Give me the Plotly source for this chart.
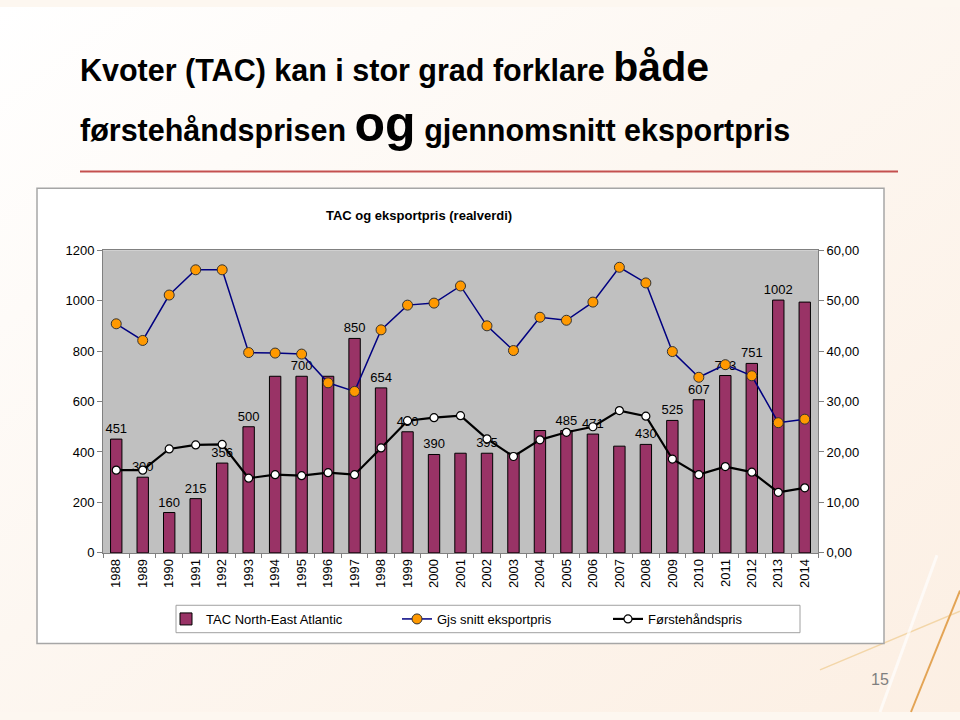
import base64
import plotly.graph_objects as go

# ---------------- data ----------------
years = [str(y) for y in range(1988, 2015)]
tac = [451, 300, 160, 215, 356, 500, 700, 700, 700, 850, 654, 480, 390, 395,
       395, 395, 485, 485, 471, 423, 430, 525, 607, 703, 751, 1002, 994]
export_price = [45.4, 42.1, 51.1, 56.1, 56.1, 39.7, 39.6, 39.4, 33.7, 32.0,
                44.2, 49.1, 49.5, 52.9, 45.0, 40.1, 46.7, 46.1, 49.7, 56.6,
                53.5, 39.9, 34.8, 37.3, 35.1, 25.8, 26.5]
first_hand = [16.4, 16.4, 20.6, 21.4, 21.5, 14.8, 15.5, 15.3, 15.9, 15.5,
              20.8, 26.2, 26.8, 27.2, 22.6, 19.1, 22.4, 23.9, 25.0, 28.2,
              27.1, 18.6, 15.5, 17.1, 16.0, 12.0, 12.9]
labelled_years = ["1988", "1989", "1990", "1991", "1992", "1993", "1995",
                  "1997", "1998", "1999", "2000", "2002", "2005", "2006",
                  "2008", "2009", "2010", "2011", "2012", "2013"]
left_ticks = [0, 200, 400, 600, 800, 1000, 1200]
right_ticks = [0, 10, 20, 30, 40, 50, 60]

bar_text = [str(v) if y in labelled_years else "" for y, v in zip(years, tac)]

W, H = 960, 720
def px(x):
    return x / W
def py(y):
    return 1 - y / H

FONT = "Liberation Sans, Arial, sans-serif"

PLOT_L, PLOT_R, PLOT_T, PLOT_B = 103, 818, 248.3, 557.5

# soft slide background gradient (decorative)
svg = ("<svg xmlns='http://www.w3.org/2000/svg' width='960' height='720'>"
       "<defs><linearGradient id='g' x1='0' y1='0' x2='1' y2='1'>"
       "<stop offset='0' stop-color='#FFFFFF'/>"
       "<stop offset='0.45' stop-color='#FDF7F1'/>"
       "<stop offset='1' stop-color='#FCEFE3'/>"
       "</linearGradient></defs>"
       "<rect width='960' height='720' fill='url(#g)'/></svg>")
bg_uri = "data:image/svg+xml;base64," + base64.b64encode(svg.encode()).decode()

fig = go.Figure()
fig.add_trace(go.Bar(
    x=years, y=tac, name="TAC North-East Atlantic",
    marker=dict(color="#993366", line=dict(color="#000000", width=1)),
    text=bar_text, textposition="outside", constraintext="none",
    textfont=dict(family=FONT, size=13, color="#000000"),
    cliponaxis=False, legend="legend",
))
fig.add_trace(go.Scatter(
    x=years, y=export_price, name="Gjs snitt eksportpris", yaxis="y2",
    mode="lines+markers",
    line=dict(color="#000080", width=1.5),
    marker=dict(symbol="circle", size=10, color="#FF9900",
                line=dict(color="#333333", width=1)),
    legend="legend2",
))
fig.add_trace(go.Scatter(
    x=years, y=first_hand, name="Førstehåndspris", yaxis="y2",
    mode="lines+markers",
    line=dict(color="#000000", width=2.2),
    marker=dict(symbol="circle", size=8, color="#FFFFFF",
                line=dict(color="#000000", width=1.2)),
    legend="legend3",
))

shapes = [
    # decorative lines on the slide background
    dict(type="line", xref="paper", yref="paper", x0=px(820), y0=py(677),
         x1=px(960), y1=py(617), line=dict(color="#F3D6A8", width=1.5), layer="below"),
    dict(type="line", xref="paper", yref="paper", x0=px(937), y0=py(560),
         x1=px(880), y1=py(720), line=dict(color="#FFFFFF", width=3), layer="below",
         opacity=0.7),
    dict(type="line", xref="paper", yref="paper", x0=px(960), y0=py(596),
         x1=px(911), y1=py(720), line=dict(color="#E3A455", width=2), layer="below"),
    # red rule under the title
    dict(type="line", xref="paper", yref="paper", x0=px(80), y0=py(168),
         x1=px(898), y1=py(168), line=dict(color="#C4504F", width=2), layer="below"),
    # white chart frame
    dict(type="rect", xref="paper", yref="paper", x0=px(37), y0=py(185),
         x1=px(884), y1=py(650), fillcolor="#FFFFFF",
         line=dict(color="#A6A6A6", width=1.5), layer="below"),
    # grey plot area
    dict(type="rect", xref="paper", yref="paper", x0=px(PLOT_L), y0=py(PLOT_B),
         x1=px(PLOT_R), y1=py(PLOT_T), fillcolor="#C0C0C0",
         line=dict(width=0), layer="below"),
    # legend box
    dict(type="rect", xref="paper", yref="paper", x0=px(176), y0=py(611),
         x1=px(800), y1=py(639), fillcolor="#FFFFFF",
         line=dict(color="#A0A0A0", width=1), layer="below"),
]

annotations = [
    dict(xref="paper", yref="paper", x=px(78), y=py(61), xanchor="left",
         yanchor="middle", showarrow=False,
         text="<b>Kvoter (TAC) kan i stor grad forklare "
              "<span style='font-size:41px'>både</span></b>",
         font=dict(family=FONT, size=30.5, color="#000000")),
    dict(xref="paper", yref="paper", x=px(78), y=py(119), xanchor="left",
         yanchor="middle", showarrow=False,
         text="<b>førstehåndsprisen "
              "<span style='font-size:50px'>og</span> gjennomsnitt eksportpris</b>",
         font=dict(family=FONT, size=30.5, color="#000000")),
    dict(xref="paper", yref="paper", x=px(419), y=py(213), xanchor="center",
         yanchor="middle", showarrow=False,
         text="<b>TAC og eksportpris (realverdi)</b>",
         font=dict(family=FONT, size=13, color="#000000")),
    dict(xref="paper", yref="paper", x=px(880), y=py(687), xanchor="center",
         yanchor="middle", showarrow=False, text="15",
         font=dict(family=FONT, size=16, color="#7F7F7F")),
]

leg_common = dict(orientation="h", yanchor="middle", xanchor="left",
                  bgcolor="rgba(0,0,0,0)", borderwidth=0,
                  font=dict(family=FONT, size=13, color="#000000"))

fig.update_layout(
    width=W, height=H, margin=dict(l=0, r=0, t=0, b=0),
    paper_bgcolor="#FDF7F0", plot_bgcolor="rgba(0,0,0,0)",
    font=dict(family=FONT, size=13, color="#000000"),
    separators=", ",
    bargap=0.57,
    showlegend=True,
    legend=dict(x=px(166), y=py(625), **leg_common),
    legend2=dict(x=px(397), y=py(625), **leg_common),
    legend3=dict(x=px(608), y=py(625), **leg_common),
    xaxis=dict(domain=[px(PLOT_L), px(PLOT_R)], type="category",
               range=[-0.5, len(years) - 0.5],
               tickangle=-90, ticks="outside", tickson="boundaries",
               ticklen=4, tickcolor="#808080",
               showline=True, linecolor="#808080", linewidth=1, mirror=True,
               showgrid=False, tickfont=dict(size=13)),
    yaxis=dict(domain=[py(PLOT_B), py(PLOT_T)], range=[0, 1200],
               tickvals=left_ticks, ticks="outside", ticklen=5,
               tickcolor="#808080", showline=True, linecolor="#808080",
               linewidth=1, showgrid=False, zeroline=False,
               tickfont=dict(size=13)),
    yaxis2=dict(overlaying="y", side="right", range=[0, 60],
                tickvals=right_ticks, tickformat=".2f", ticks="outside",
                ticklen=5, tickcolor="#808080", showline=True,
                linecolor="#808080", linewidth=1, showgrid=False,
                zeroline=False, tickfont=dict(size=13)),
    images=[dict(source=bg_uri, xref="paper", yref="paper", x=0, y=1,
                 sizex=1, sizey=1, xanchor="left", yanchor="top",
                 sizing="stretch", layer="below")],
    shapes=shapes,
    annotations=annotations,
)

fig.write_html("out.html")
